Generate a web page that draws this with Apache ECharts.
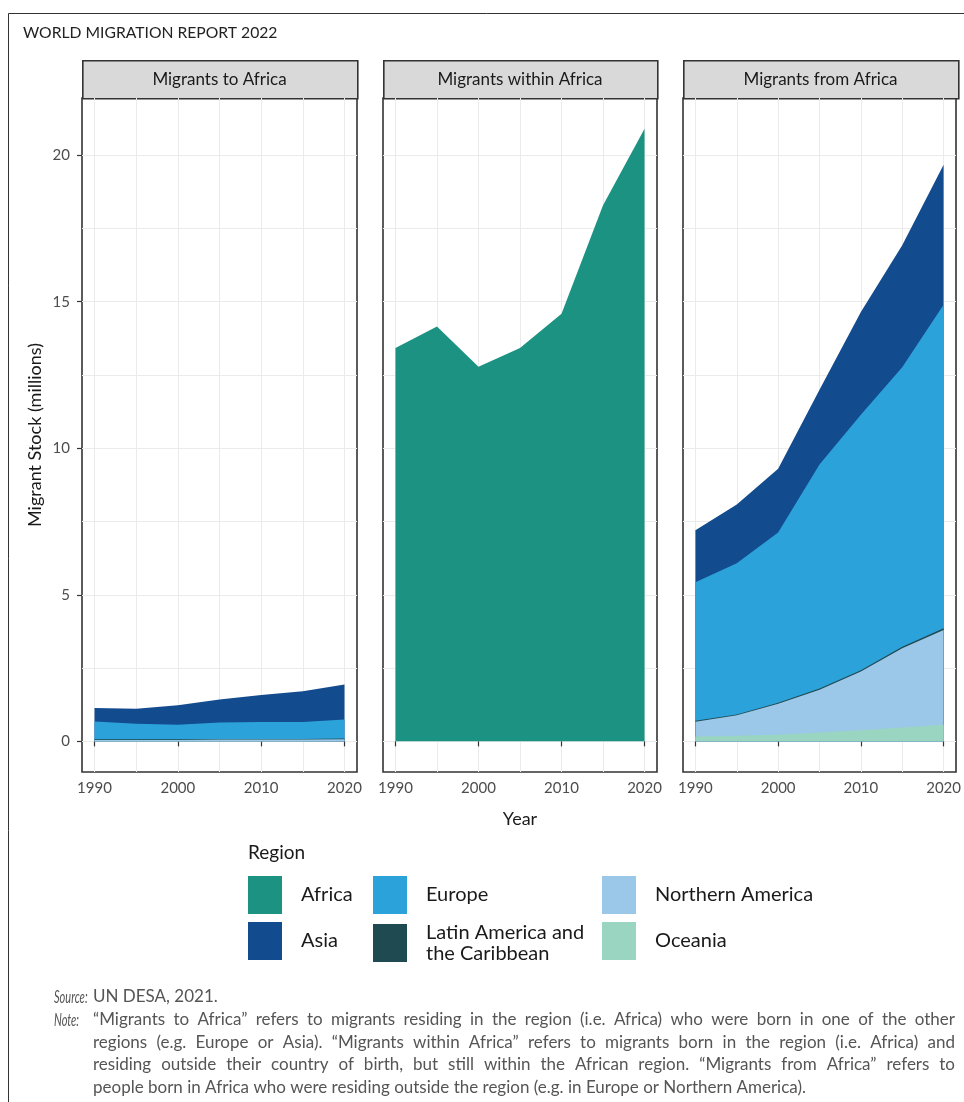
<!DOCTYPE html>
<html>
<head>
<meta charset="utf-8">
<script src="https://cdn.jsdelivr.net/npm/echarts@6/dist/echarts.min.js"></script>
<style>
  html, body { margin: 0; padding: 0; background: #fff; }
  #main { width: 964px; height: 1102px; }
</style>
</head>
<body>
<div id="main"></div>
<script>
// years on the x axis
var years = [1990, 1995, 2000, 2005, 2010, 2015, 2020];

// Migrants to Africa (millions), by region of origin
var toAsia     = [0.46, 0.51, 0.66, 0.79, 0.92, 1.05, 1.19];
var toEurope   = [0.61, 0.53, 0.50, 0.56, 0.58, 0.58, 0.65];
var toLatAm    = [0.02, 0.02, 0.02, 0.02, 0.02, 0.02, 0.03];
var toNorthAm  = [0.04, 0.04, 0.04, 0.05, 0.05, 0.05, 0.06];
var toOceania  = [0.01, 0.01, 0.01, 0.01, 0.01, 0.01, 0.01];

// Migrants within Africa
var withinAfrica = [13.42, 14.15, 12.78, 13.42, 14.59, 18.29, 20.9];

// Migrants from Africa, by region of destination
var fromAsia    = [1.77, 2.00, 2.17, 2.55, 3.51, 4.17, 4.77];
var fromEurope  = [4.73, 5.16, 5.81, 7.65, 8.71, 9.53, 11.04];
var fromLatAm   = [0.03, 0.03, 0.04, 0.04, 0.05, 0.05, 0.06];
var fromNorthAm = [0.50, 0.70, 1.05, 1.46, 2.00, 2.71, 3.23];
var fromOceania = [0.17, 0.19, 0.23, 0.30, 0.38, 0.47, 0.57];

var panelTitles = ['Migrants to Africa', 'Migrants within Africa', 'Migrants from Africa'];
var yTicks = [0, 5, 10, 15, 20];
var yGrid = [0, 2.5, 5, 7.5, 10, 12.5, 15, 17.5, 20];
var xTicks = [1990, 2000, 2010, 2020];
var xGrid = [1990, 1995, 2000, 2005, 2010, 2015, 2020];

var regionColor = {
  'Africa': '#1b9282',
  'Asia': '#134b8f',
  'Europe': '#2ca2da',
  'Latin America and the Caribbean': '#1f4a52',
  'Northern America': '#9bc7e9',
  'Oceania': '#99d5c1'
};

// bottom -> top stacking order
var panels = [
  [['Oceania', toOceania], ['Northern America', toNorthAm], ['Latin America and the Caribbean', toLatAm], ['Europe', toEurope], ['Asia', toAsia]],
  [['Africa', withinAfrica]],
  [['Oceania', fromOceania], ['Northern America', fromNorthAm], ['Latin America and the Caribbean', fromLatAm], ['Europe', fromEurope], ['Asia', fromAsia]]
];

var FONT = 'Lato, "Open Sans", sans-serif';
var lefts = [82, 383, 683];
var widths = [275, 274, 275];
var gridTop = 98, gridH = 674;

var grid = [], xAxis = [], yAxis = [], series = [], graphic = [];

for (var i = 0; i < 3; i++) {
  grid.push({
    left: lefts[i], top: gridTop, width: widths[i], height: gridH,
    show: true, backgroundColor: '#fff', borderColor: '#333', borderWidth: 1.6
  });
  // grid lines (major + minor)
  xAxis.push({
    type: 'value', gridIndex: i, position: 'bottom', min: 1988.5, max: 2021.5,
    axisLine: { show: false }, axisLabel: { show: false },
    axisTick: { show: false, customValues: xGrid },
    splitLine: { show: true, lineStyle: { color: '#ebebeb', width: 1 } }
  });
  // ticks and labels
  xAxis.push({
    type: 'value', gridIndex: i, position: 'bottom', min: 1988.5, max: 2021.5,
    axisLine: { show: false },
    axisTick: { show: true, length: 5, customValues: xTicks, lineStyle: { color: '#333', width: 1.2 } },
    axisLabel: { show: true, customValues: xTicks, margin: 9, color: '#4d4d4d', fontSize: 15, fontFamily: FONT,
                 formatter: function (v) { return String(v); } },
    splitLine: { show: false },
    name: i === 1 ? 'Year' : '', nameLocation: 'middle', nameGap: 38,
    nameTextStyle: { fontSize: 18, color: '#1a1a1a', fontFamily: FONT }
  });
  yAxis.push({
    type: 'value', gridIndex: i, position: 'left', min: -1.045, max: 21.95,
    axisLine: { show: false }, axisLabel: { show: false },
    axisTick: { show: false, customValues: yGrid },
    splitLine: { show: true, lineStyle: { color: '#ebebeb', width: 1 } }
  });
  yAxis.push({
    type: 'value', gridIndex: i, position: 'left', min: -1.045, max: 21.95,
    axisLine: { show: false },
    axisTick: { show: i === 0, length: 5, customValues: yTicks, lineStyle: { color: '#333', width: 1.2 } },
    axisLabel: { show: i === 0, customValues: yTicks, margin: 12, color: '#4d4d4d', fontSize: 15, fontFamily: FONT },
    splitLine: { show: false },
    name: i === 0 ? 'Migrant Stock (millions)' : '', nameLocation: 'middle', nameGap: 38, nameRotate: 90,
    nameTextStyle: { fontSize: 18, color: '#1a1a1a', fontFamily: FONT }
  });

  // cumulative totals, drawn top layer first so each lower layer paints over it
  var cum = years.map(function () { return 0; });
  var layers = panels[i].map(function (p) {
    cum = cum.map(function (c, k) { return c + p[1][k]; });
    return { name: p[0], top: cum.slice() };
  });
  layers.reverse().forEach(function (l) {
    series.push({
      name: l.name, type: 'line',
      xAxisIndex: 2 * i + 1, yAxisIndex: 2 * i + 1,
      symbol: 'none', silent: true,
      lineStyle: { width: 0, color: regionColor[l.name] },
      itemStyle: { color: regionColor[l.name] },
      areaStyle: { color: regionColor[l.name], opacity: 1 },
      data: years.map(function (y, k) { return [y, l.top[k]]; })
    });
  });

  // facet strip
  graphic.push({
    type: 'rect', left: lefts[i], top: 60,
    shape: { width: widths[i], height: 38 },
    style: { fill: '#d9d9d9', stroke: '#333', lineWidth: 1.6 }
  });
  graphic.push({
    type: 'text', x: lefts[i] + widths[i] / 2, y: 80,
    style: { text: panelTitles[i], fill: '#1a1a1a', font: '17px ' + FONT, align: 'center', verticalAlign: 'middle' }
  });
}

// outer frame and header
graphic.push({
  type: 'rect', shape: { x: 8.5, y: 13.5, width: 1000, height: 1200 },
  style: { fill: 'none', stroke: '#333', lineWidth: 1 }, z: -1
});
graphic.push({
  type: 'text', x: 23, y: 33,
  style: { text: 'WORLD MIGRATION REPORT 2022', fill: '#222', font: '15.7px ' + FONT, verticalAlign: 'middle' }
});
graphic.push({
  type: 'text', x: 248, y: 853,
  style: { text: 'Region', fill: '#1a1a1a', font: '19px ' + FONT, verticalAlign: 'middle' }
});

// footnote
var noteLines = [
  '\u201cMigrants to Africa\u201d refers to migrants residing in the region (i.e. Africa) who were born in one of the other',
  'regions (e.g. Europe or Asia). \u201cMigrants within Africa\u201d refers to migrants born in the region (i.e. Africa) and',
  'residing outside their country of birth, but still within the African region. \u201cMigrants from Africa\u201d refers to',
  'people born in Africa who were residing outside the region (e.g. in Europe or Northern America).'
];
var NOTE_FONT = '17px ' + FONT;
var LABEL_FONT = 'italic 17.5px ' + FONT;
var ctx = document.createElement('canvas').getContext('2d');
ctx.font = NOTE_FONT;

graphic.push({ type: 'text', x: 54, y: 997, scaleX: 0.63, style: { text: 'Source:', fill: '#555', font: LABEL_FONT, verticalAlign: 'middle' } });
graphic.push({ type: 'text', x: 93, y: 997, style: { text: 'UN DESA, 2021.', fill: '#555', font: NOTE_FONT, verticalAlign: 'middle' } });
graphic.push({ type: 'text', x: 54, y: 1020, scaleX: 0.63, style: { text: 'Note:', fill: '#555', font: LABEL_FONT, verticalAlign: 'middle' } });
noteLines.forEach(function (t, k) {
  var y = 1020 + k * 22.5;
  if (k === noteLines.length - 1) {
    graphic.push({ type: 'text', x: 93, y: y, style: { text: t, fill: '#555', font: NOTE_FONT, verticalAlign: 'middle' } });
    return;
  }
  // justified line: spread the words between x=93 and x=955
  var words = t.split(' ');
  var ws = words.map(function (w) { return ctx.measureText(w).width; });
  var total = ws.reduce(function (a, b) { return a + b; }, 0);
  var gap = (955 - 93 - total) / (words.length - 1);
  var x = 93;
  words.forEach(function (w, j) {
    graphic.push({ type: 'text', x: x, y: y, style: { text: w, fill: '#555', font: NOTE_FONT, verticalAlign: 'middle' } });
    x += ws[j] + gap;
  });
});

function legendCol(left, names) {
  return {
    orient: 'vertical', left: left, top: 876, padding: 0,
    itemWidth: 34, itemHeight: 38, itemGap: 8, icon: 'rect', selectedMode: false,
    data: names.map(function (n) { return { name: n, itemStyle: { color: regionColor[n] } }; }),
    formatter: function (n) { return n === 'Latin America and the Caribbean' ? 'Latin America and\nthe Caribbean' : n; },
    textStyle: { fontSize: 20, color: '#1a1a1a', fontFamily: FONT, lineHeight: 21, padding: [0, 0, 0, 14] }
  };
}

var chart = echarts.init(document.getElementById('main'));
chart.setOption({
  animation: false,
  backgroundColor: '#fff',
  grid: grid,
  xAxis: xAxis,
  yAxis: yAxis,
  legend: [
    legendCol(248, ['Africa', 'Asia']),
    legendCol(373, ['Europe', 'Latin America and the Caribbean']),
    legendCol(602, ['Northern America', 'Oceania'])
  ],
  graphic: graphic,
  series: series
});
</script>
</body>
</html>
